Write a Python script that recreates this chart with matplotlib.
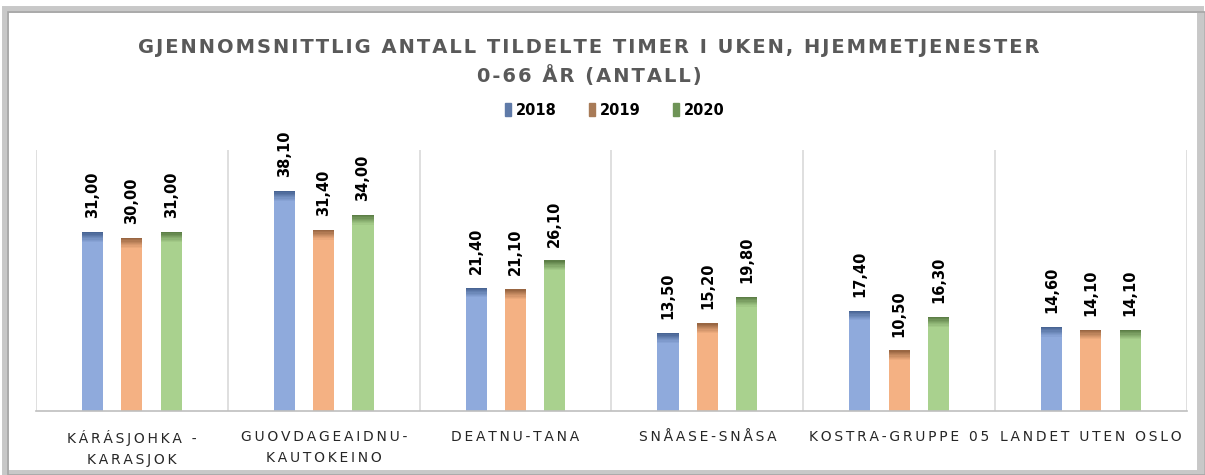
import matplotlib
matplotlib.use("Agg")
import matplotlib.pyplot as plt
from matplotlib.patches import Rectangle
import numpy as np

categories = ["KÁRÁSJOHKA -\nKARASJOK", "GUOVDAGEAIDNU-\nKAUTOKEINO", "DEATNU-TANA",
              "SNÅASE-SNÅSA", "KOSTRA-GRUPPE 05", "LANDET UTEN OSLO"]
years = ["2018", "2019", "2020"]
v2018 = [31.00, 38.10, 21.40, 13.50, 17.40, 14.60]
v2019 = [30.00, 31.40, 21.10, 15.20, 10.50, 14.10]
v2020 = [31.00, 34.00, 26.10, 19.80, 16.30, 14.10]
series = [v2018, v2019, v2020]

colors = ["#8FAADC", "#F4B183", "#A9D18E"]
tops = ["#44608F", "#94623F", "#587A42"]
legend_colors = ["#5F7AA8", "#A87B57", "#6F9457"]

def spaced(s, sep="\u200a"):
    return "\n".join(sep.join(list(line)) for line in s.split("\n"))

fig = plt.figure(figsize=(12.05, 4.75), dpi=100)
fig.patch.set_facecolor("white")
# outer frame with shadow
fig.patches.append(Rectangle((0.004, 0.004), 0.992, 0.978, transform=fig.transFigure,
                             fill=False, edgecolor="#C8C8C8", linewidth=5, zorder=0))
fig.patches.append(Rectangle((0.007, 0.0), 0.993, 0.975, transform=fig.transFigure,
                             fill=False, edgecolor="#A6A6A6", linewidth=1.2, zorder=0))

ax = fig.add_axes([0.0299, 0.1347, 0.955, 0.549])
x = np.arange(len(categories))
offsets = [-0.205, 0.0, 0.205]
w = 0.11
cap = 1.7
nslice = 8
for i, (vals, off) in enumerate(zip(series, offsets)):
    vals = np.array(vals)
    ax.bar(x + off, vals, width=w, color=colors[i], edgecolor="none", zorder=2)
    for k in range(nslice):
        h = cap / nslice
        ax.bar(x + off, np.full_like(vals, h), bottom=vals - (k + 1) * h, width=w,
               color=tops[i], edgecolor="none", zorder=3,
               alpha=0.95 * (1 - k / nslice) ** 1.1)
    for xi, v in zip(x + off, vals):
        ax.text(xi, v + 2.4, f"{v:.2f}".replace(".", ","), rotation=90,
                ha="center", va="bottom", fontsize=10.5, fontweight="bold", color="#000000")

ax.set_xlim(-0.5, len(categories) - 0.5)
ax.set_ylim(0, 45.2)
for b in np.arange(-0.5, len(categories) + 0.5, 1.0):
    ax.axvline(b, color="#D9D9D9", linewidth=1.2, zorder=1)
for s in ["top", "right", "left"]:
    ax.spines[s].set_visible(False)
ax.spines["bottom"].set_color("#BFBFBF")
ax.spines["bottom"].set_linewidth(1.2)
ax.set_yticks([])
ax.set_xticks(x)
ax.set_xticklabels([spaced(c, "\u2009") for c in categories], fontsize=10, color="#262626",
                   linespacing=1.55)
ax.tick_params(axis="x", length=0, pad=14)

fig.text(0.489, 0.9, spaced("GJENNOMSNITTLIG ANTALL TILDELTE TIMER I UKEN, HJEMMETJENESTER"),
         ha="center", va="center", fontsize=14, fontweight="bold", color="#595959")
fig.text(0.489, 0.842, spaced("0-66 ÅR (ANTALL)"),
         ha="center", va="center", fontsize=14, fontweight="bold", color="#595959")

handles = [Rectangle((0, 0), 1, 1, color=c) for c in legend_colors]
fig.legend(handles, years, loc="center", bbox_to_anchor=(0.51, 0.768), ncol=3,
           frameon=False, prop={"weight": "bold", "size": 10.5},
           handlelength=0.45, handleheight=1.0, handletextpad=0.3, columnspacing=2.2)

fig.savefig("out.png", dpi=100)
